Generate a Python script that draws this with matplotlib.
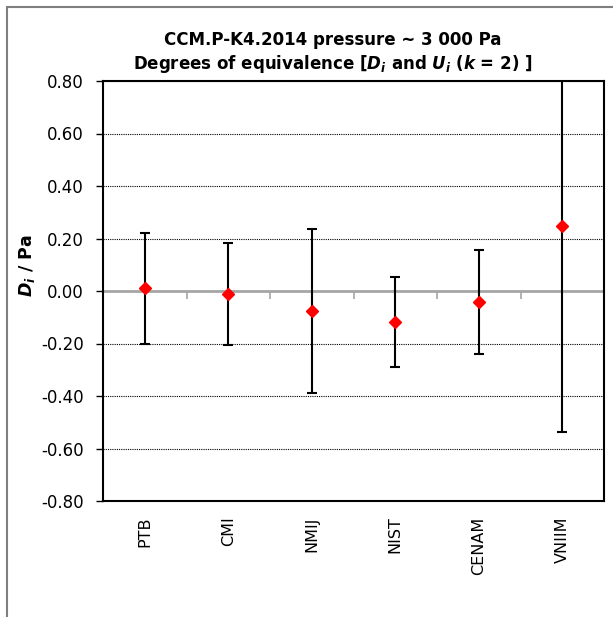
import matplotlib
matplotlib.use("Agg")
import matplotlib.pyplot as plt
from matplotlib.patches import Rectangle
import numpy as np

labs = ["PTB", "CMI", "NMIJ", "NIST", "CENAM", "VNIIM"]
D = [0.010, -0.011, -0.077, -0.118, -0.042, 0.248]
U = [0.210, 0.195, 0.313, 0.173, 0.199, 0.786]
yticks = [-0.80, -0.60, -0.40, -0.20, 0.00, 0.20, 0.40, 0.60, 0.80]

plt.rcParams['font.family'] = ['DejaVu Sans']
plt.rcParams['mathtext.fontset'] = 'custom'
plt.rcParams['mathtext.it'] = 'DejaVu Sans:italic:bold'
plt.rcParams['mathtext.rm'] = 'DejaVu Sans:bold'
plt.rcParams['mathtext.bf'] = 'DejaVu Sans:bold'

W, H = 613, 617
fig = plt.figure(figsize=(W/100, H/100), dpi=100)
ax = fig.add_axes([103/W, 1-501/H, (604-103)/W, (501-81)/H])

x = np.arange(len(labs))
ax.errorbar(x, D, yerr=U, fmt='none', ecolor='black', elinewidth=1.5,
            capsize=3.5, capthick=1.5, zorder=3)
ax.plot(x, D, linestyle='none', marker='D', markersize=6.2,
        color='#ff0000', markeredgecolor='#ff0000', zorder=4)

ax.set_xlim(-0.5, len(labs)-0.5)
ax.set_ylim(-0.8, 0.8)
ax.set_yticks(yticks)
ax.set_yticklabels([f"{v:.2f}" for v in yticks], fontsize=12)
ax.tick_params(axis='y', direction='out', length=5, width=1, pad=9, color='black')
ax.set_xticks(x)
ax.set_xticklabels(labs, rotation=90, fontsize=11.5, va='top')
ax.tick_params(axis='x', length=0, pad=11)
ax.yaxis.grid(True, color='black', linestyle=(0, (1, 1)), linewidth=0.8)
ax.set_axisbelow(True)
for s in ax.spines.values():
    s.set_linewidth(1.5)
    s.set_color('black')

# zero axis line with category-boundary ticks
ax.axhline(0, color='#a6a6a6', linewidth=2, zorder=1.5)
sec = ax.secondary_xaxis(0.5)
sec.set_xticks(np.arange(-0.5, len(labs)))
sec.set_xticklabels([])
sec.tick_params(axis='x', direction='in', length=6, width=1.2, color='#a6a6a6')
for s in sec.spines.values():
    s.set_visible(False)

fig.text(333/W, 1-31/H,
         "CCM.P-K4.2014 pressure ~ 3 000 Pa\n"
         "Degrees of equivalence [$D_i$ and $U_i$ ($k$ = 2) ]",
         ha='center', va='top', fontsize=12, fontweight='bold', linespacing=1.25)

fig.text(27/W, 1-266/H, "$D_i$ / Pa", rotation=90, ha='center', va='center',
         fontsize=12.5, fontweight='bold')

fig.patches.append(Rectangle((7/W, -0.05), 1.1, 1-7/H+0.05, transform=fig.transFigure,
                             fill=False, edgecolor='#7f7f7f', linewidth=1.5, figure=fig))

fig.savefig("out.png", dpi=100)
